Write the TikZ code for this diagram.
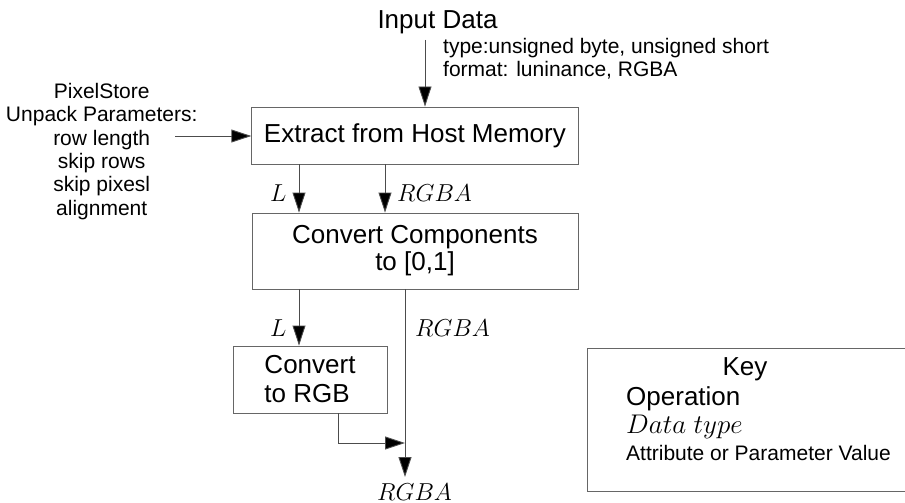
\RequirePackage{fix-cm}
\documentclass[tikz,border=0pt]{standalone}
\usepackage{fontspec}
\setmainfont{Liberation Sans}
\usetikzlibrary{arrows.meta}
\begin{document}
\begin{tikzpicture}[x=1pt,y=-1pt,
  bigtxt/.style={font=\fontsize{26}{27}\selectfont, inner sep=0pt},
  smalltxt/.style={font=\fontsize{21}{23.3}\selectfont, inner sep=0pt},
  mathlbl/.style={font=\fontsize{24.5}{24.5}\selectfont, inner sep=0pt, anchor=base west},
  opbox/.style={draw=black!60, line width=0.9pt, inner sep=0pt, font=\fontsize{26}{27}\selectfont, align=center},
  arr/.style={draw=black!70, line width=0.9pt, -{Triangle[length=20pt,width=13pt,fill=black]}},
  conn/.style={draw=black!70, line width=0.9pt}]
\useasboundingbox (0,0) rectangle (905,503);
\fill[white] (0,0) rectangle (905,503);

% operations
\node[opbox, minimum width=326.3pt, minimum height=57pt] (ext) at (414.9,135.5) {Extract from Host Memory};
\node[opbox, minimum width=326pt, minimum height=76pt] (comp) at (415,251) {Convert Components\\to [0,1]};
\node[opbox, minimum width=154pt, minimum height=67pt, align=left, font=\fontsize{26}{29}\selectfont] (rgb) at (310,379.5) {Convert\\to RGB};

% inputs
\node[bigtxt, anchor=base] (indata) at (437.5,29) {Input Data};
\node[smalltxt, anchor=base west, align=left] (typ) at (443,77) {type:unsigned byte, unsigned short\\format: luninance, RGBA};
\node[smalltxt, anchor=base, align=center] (pix) at (101.7,215) {PixelStore\\Unpack Parameters:\\row length\\skip rows\\skip pixesl\\alignment};

% coordinates
\coordinate (inTop) at (425,40);
\coordinate (pixEnd) at (175,136);
\coordinate (xL) at (299,0);
\coordinate (xR) at (385,0);
\coordinate (xR2) at (405,0);
\coordinate (xC) at (338,0);
\coordinate (join) at (405,443);
\coordinate (outTip) at (405,477);

% connectors
\draw[arr] (inTop) -- (inTop |- ext.north);
\draw[arr] (pixEnd) -- (pixEnd -| ext.west);
\draw[arr] (ext.south -| xL) -- (comp.north -| xL);
\draw[arr] (ext.south -| xR) -- (comp.north -| xR);
\draw[arr] (comp.south -| xL) -- (rgb.north -| xL);
\draw[arr] (comp.south -| xR2) -- (outTip);
\draw[arr] (rgb.south -| xC) |- (join);

% data type labels
\node[mathlbl] (l1) at (270,201.7) {$L$};
\node[mathlbl] (r1) at (397,201.7) {$RGBA$};
\node[mathlbl] (l2) at (270,336.7) {$L$};
\node[mathlbl] (r2) at (415,336.7) {$RGBA$};
\node[mathlbl] (r3) at (377,500) {$RGBA$};

% key
\node[draw=black!60, line width=0.9pt, minimum width=340pt, minimum height=143pt, anchor=north west, inner sep=0pt] (key) at (587,348) {};
\node[bigtxt, anchor=base] (keyt) at (745,375) {Key};
\node[bigtxt, anchor=base west] (keyop) at (626,405) {Operation};
\node[mathlbl, font=\fontsize{27}{27}\selectfont] (keydt) at (626,433) {$Data\ type$};
\node[smalltxt, anchor=base west] (keyat) at (626,460.7) {Attribute or Parameter Value};
\end{tikzpicture}
\end{document}
